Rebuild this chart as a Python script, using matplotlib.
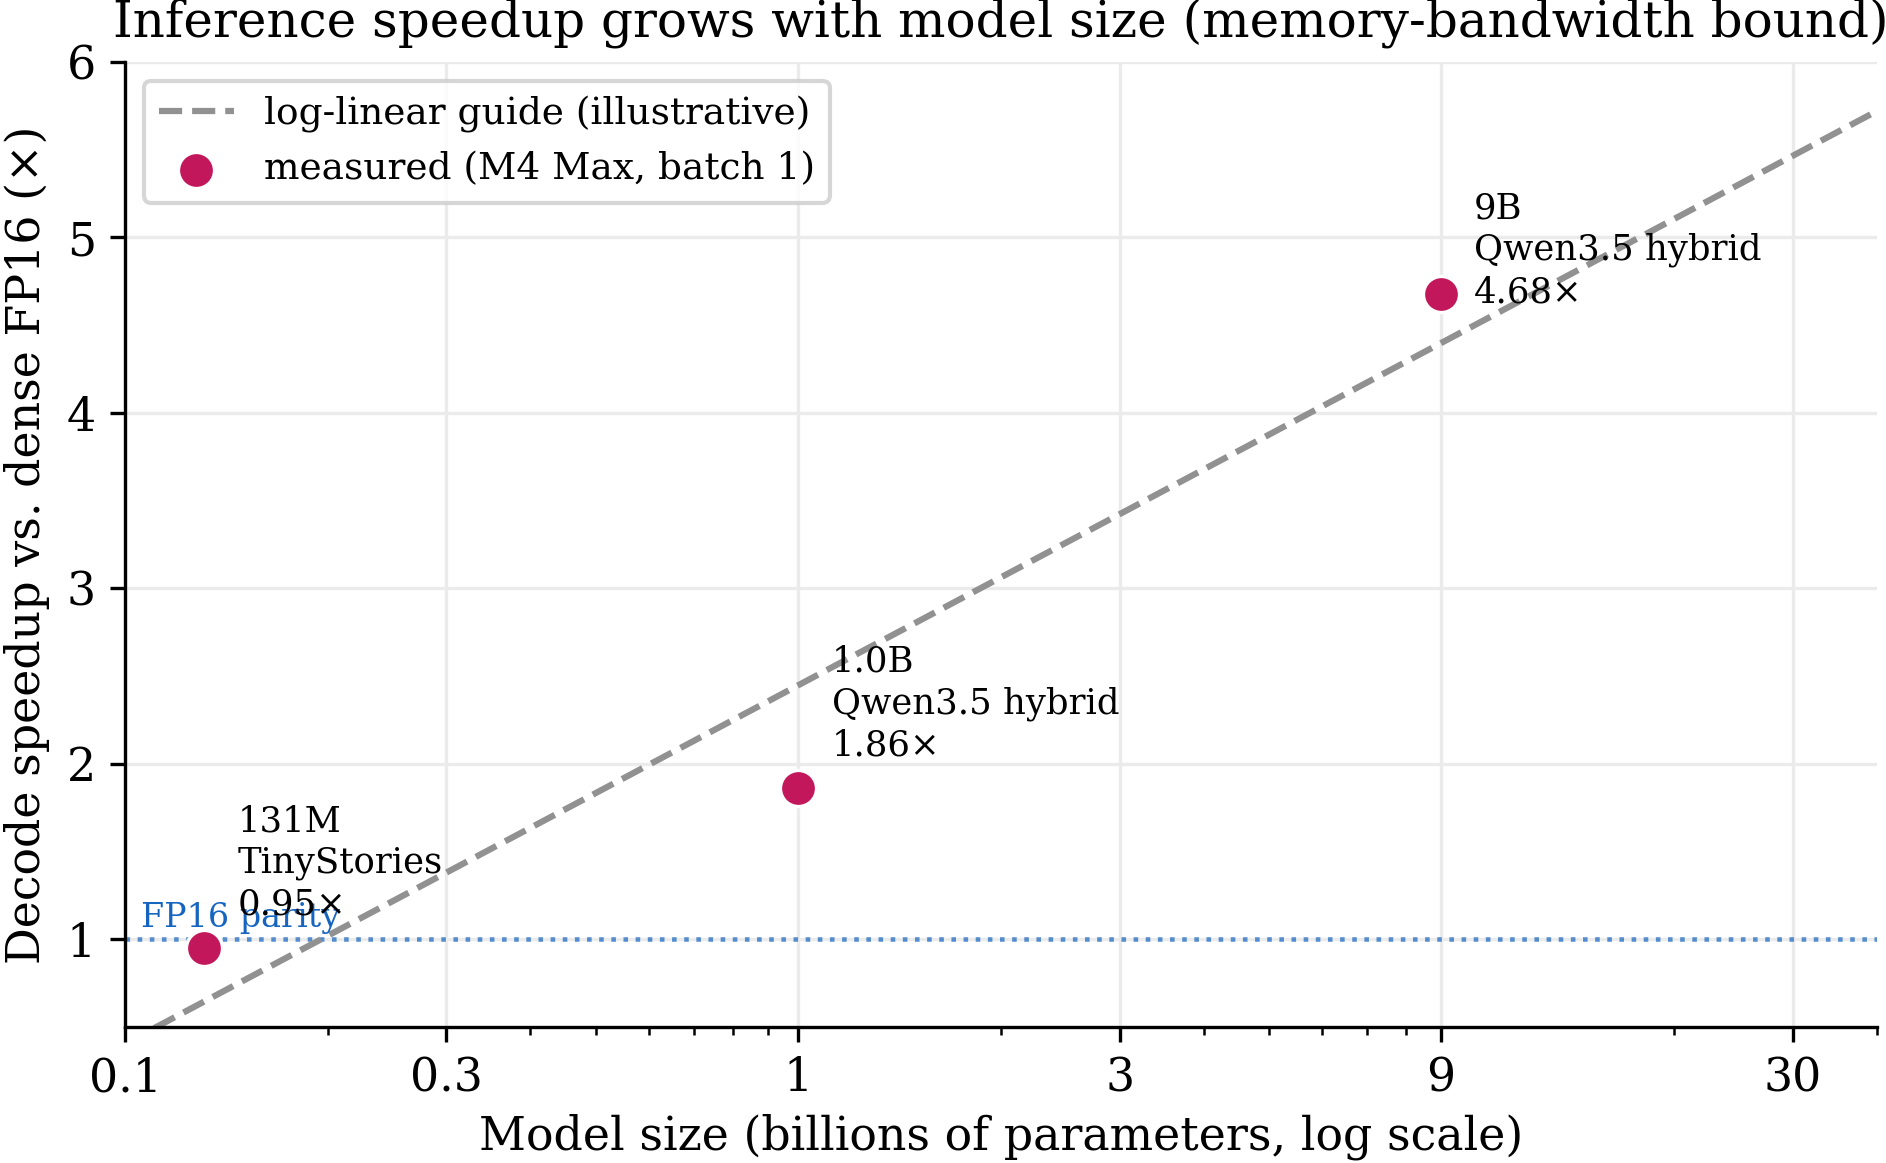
import numpy as np
import matplotlib
matplotlib.use("Agg")
import matplotlib.pyplot as plt

plt.rcParams['font.family'] = ['DejaVu Serif']

# ---- data ----
sizes_b = [0.131, 1.0, 9.0]
speedups = [0.95, 1.86, 4.68]
size_labels = ["131M", "1.0B", "9B"]
model_names = ["TinyStories", "Qwen3.5 hybrid", "Qwen3.5 hybrid"]
label_dy = [6.3, 6.3, -3.7]
xtick_vals = [0.1, 0.3, 1, 3, 9, 30]
xtick_labels = ["0.1", "0.3", "1", "3", "9", "30"]
ytick_vals = [1, 2, 3, 4, 5, 6]

W, H, DPI = 1886, 1163, 300
fig = plt.figure(figsize=(W / DPI, H / DPI), dpi=DPI)
ax = fig.add_axes([125 / W, 1 - 1027 / H, (1877 - 125) / W, (1027 - 62) / H])

ax.set_xscale('log')
ax.set_xlim(0.1, 40)
ax.set_ylim(0.5, 6)

# log-linear guide (least-squares fit in log10 x)
slope, intercept = np.polyfit(np.log10(sizes_b), speedups, 1)
xg = np.logspace(np.log10(0.1), np.log10(40), 200)
ax.plot(xg, intercept + slope * np.log10(xg), linestyle='--', color='0.57',
        lw=1.5, label='log-linear guide (illustrative)', zorder=2)

# FP16 parity
ax.axhline(1.0, color='#1565C0', alpha=0.7, lw=1.1, linestyle=':', zorder=1.5)
ax.text(0.1055, 1.03, 'FP16 parity', color='#1565C0', fontsize=8.0,
        va='bottom', ha='left', zorder=3)

ax.scatter(sizes_b, speedups, s=75, color='#C2185B', edgecolors='white',
           linewidths=0.8, zorder=4, label='measured (M4 Max, batch 1)')

for x, y, sl, mn, dy in zip(sizes_b, speedups, size_labels, model_names, label_dy):
    ax.annotate(f"{sl}\n{mn}\n{y:.2f}\u00d7", (x, y), xytext=(8.0, dy),
                textcoords='offset points', fontsize=8.5, va='bottom', ha='left',
                linespacing=1.28, zorder=5)

ax.set_xticks(xtick_vals)
ax.set_xticklabels(xtick_labels)
ax.set_yticks(ytick_vals)
ax.tick_params(axis='both', labelsize=11)

ax.grid(True, which='major', color='0.92', lw=0.8, zorder=0)
ax.set_axisbelow(True)
for s in ['top', 'right']:
    ax.spines[s].set_visible(False)

ax.set_xlabel('Model size (billions of parameters, log scale)', fontsize=11, labelpad=3)
ax.set_ylabel('Decode speedup vs. dense FP16 (\u00d7)', fontsize=11)
ax.set_title('Inference speedup grows with model size (memory-bandwidth bound)',
             fontsize=12)

ax.legend(loc='upper left', fontsize=9)

fig.savefig('out.png', dpi=DPI)
